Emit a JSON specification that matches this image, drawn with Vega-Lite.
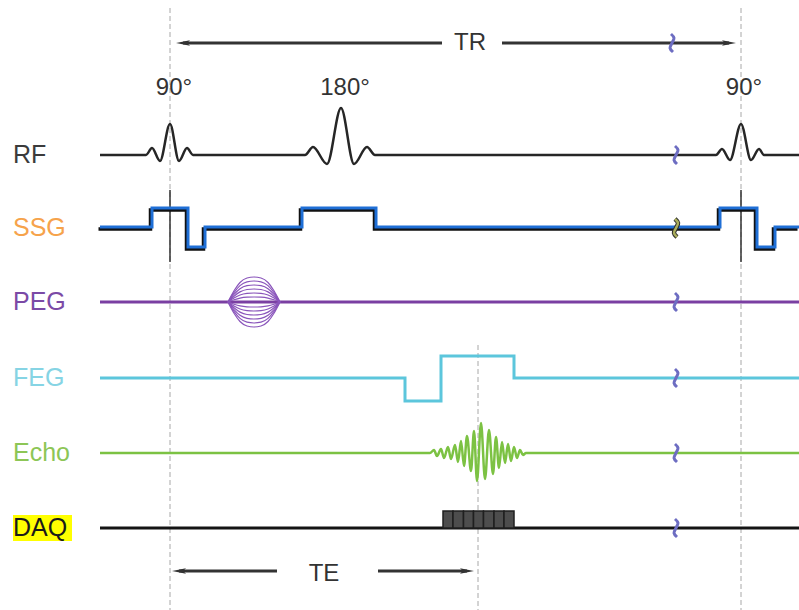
{
  "$schema": "https://vega.github.io/schema/vega-lite/v6.json",
  "width": 799,
  "height": 610,
  "autosize": {"type": "none"},
  "padding": 0,
  "background": "white",
  "config": {"view": {"stroke": null}, "font": "Liberation Sans"},
  "datasets": {
    "guides": [
      {"x": 170, "y": 8, "y2": 610},
      {"x": 741, "y": 8, "y2": 610},
      {"x": 478, "y": 345, "y2": 610}
    ],
    "markers": [
      {"x": 170, "y": 190, "y2": 262},
      {"x": 741, "y": 190, "y2": 262}
    ],
    "highlight": [{"x": 13, "x2": 72, "y": 515, "y2": 541}],
    "sharp": [
      {"s": "ssg", "k": "ssg", "x": 100, "y": 227},
      {"s": "ssg", "k": "ssg", "x": 152, "y": 227},
      {"s": "ssg", "k": "ssg", "x": 152, "y": 208},
      {"s": "ssg", "k": "ssg", "x": 188, "y": 208},
      {"s": "ssg", "k": "ssg", "x": 188, "y": 247},
      {"s": "ssg", "k": "ssg", "x": 205, "y": 247},
      {"s": "ssg", "k": "ssg", "x": 205, "y": 227},
      {"s": "ssg", "k": "ssg", "x": 302, "y": 227},
      {"s": "ssg", "k": "ssg", "x": 302, "y": 208},
      {"s": "ssg", "k": "ssg", "x": 376, "y": 208},
      {"s": "ssg", "k": "ssg", "x": 376, "y": 227},
      {"s": "ssg", "k": "ssg", "x": 720, "y": 227},
      {"s": "ssg", "k": "ssg", "x": 720, "y": 208},
      {"s": "ssg", "k": "ssg", "x": 757, "y": 208},
      {"s": "ssg", "k": "ssg", "x": 757, "y": 247},
      {"s": "ssg", "k": "ssg", "x": 775, "y": 247},
      {"s": "ssg", "k": "ssg", "x": 775, "y": 227},
      {"s": "ssg", "k": "ssg", "x": 799, "y": 227},
      {"s": "feg", "k": "feg", "x": 100, "y": 378},
      {"s": "feg", "k": "feg", "x": 405, "y": 378},
      {"s": "feg", "k": "feg", "x": 405, "y": 401},
      {"s": "feg", "k": "feg", "x": 441, "y": 401},
      {"s": "feg", "k": "feg", "x": 441, "y": 356},
      {"s": "feg", "k": "feg", "x": 514, "y": 356},
      {"s": "feg", "k": "feg", "x": 514, "y": 378},
      {"s": "feg", "k": "feg", "x": 799, "y": 378},
      {"s": "daq", "k": "daq", "x": 100, "y": 528},
      {"s": "daq", "k": "daq", "x": 799, "y": 528},
      {"s": "pegb", "k": "peg", "x": 100, "y": 302},
      {"s": "pegb", "k": "peg", "x": 799, "y": 302},
      {"s": "trL", "k": "arr", "x": 183, "y": 43},
      {"s": "trL", "k": "arr", "x": 442, "y": 43},
      {"s": "trR", "k": "arr", "x": 502, "y": 43},
      {"s": "trR", "k": "arr", "x": 729, "y": 43},
      {"s": "teL", "k": "arr", "x": 179, "y": 571},
      {"s": "teL", "k": "arr", "x": 277, "y": 571},
      {"s": "teR", "k": "arr", "x": 378, "y": 571},
      {"s": "teR", "k": "arr", "x": 467, "y": 571}
    ],
    "smooth": [
      {"s": "rf", "k": "rf", "x": 100, "y": 155},
      {"s": "rf", "k": "rf", "x": 146, "y": 155},
      {"s": "rf", "k": "rf", "x": 152, "y": 148},
      {"s": "rf", "k": "rf", "x": 160, "y": 161},
      {"s": "rf", "k": "rf", "x": 170, "y": 124},
      {"s": "rf", "k": "rf", "x": 179, "y": 161},
      {"s": "rf", "k": "rf", "x": 187, "y": 148},
      {"s": "rf", "k": "rf", "x": 193, "y": 155},
      {"s": "rf", "k": "rf", "x": 305, "y": 155},
      {"s": "rf", "k": "rf", "x": 313, "y": 147},
      {"s": "rf", "k": "rf", "x": 327, "y": 164},
      {"s": "rf", "k": "rf", "x": 341, "y": 108},
      {"s": "rf", "k": "rf", "x": 354, "y": 164},
      {"s": "rf", "k": "rf", "x": 367, "y": 147},
      {"s": "rf", "k": "rf", "x": 375, "y": 155},
      {"s": "rf", "k": "rf", "x": 716, "y": 155},
      {"s": "rf", "k": "rf", "x": 722, "y": 149},
      {"s": "rf", "k": "rf", "x": 730, "y": 160},
      {"s": "rf", "k": "rf", "x": 741, "y": 124},
      {"s": "rf", "k": "rf", "x": 751, "y": 160},
      {"s": "rf", "k": "rf", "x": 759, "y": 149},
      {"s": "rf", "k": "rf", "x": 764, "y": 155},
      {"s": "rf", "k": "rf", "x": 799, "y": 155},
      {"s": "echo", "k": "echo", "x": 100, "y": 453},
      {"s": "echo", "k": "echo", "x": 430, "y": 453},
      {"s": "echo", "k": "echo", "x": 434, "y": 450},
      {"s": "echo", "k": "echo", "x": 437, "y": 456},
      {"s": "echo", "k": "echo", "x": 441, "y": 449},
      {"s": "echo", "k": "echo", "x": 444, "y": 458},
      {"s": "echo", "k": "echo", "x": 448, "y": 447},
      {"s": "echo", "k": "echo", "x": 451, "y": 459},
      {"s": "echo", "k": "echo", "x": 455, "y": 445},
      {"s": "echo", "k": "echo", "x": 458, "y": 462},
      {"s": "echo", "k": "echo", "x": 461, "y": 441},
      {"s": "echo", "k": "echo", "x": 464, "y": 466},
      {"s": "echo", "k": "echo", "x": 467, "y": 436},
      {"s": "echo", "k": "echo", "x": 471, "y": 471},
      {"s": "echo", "k": "echo", "x": 474, "y": 431},
      {"s": "echo", "k": "echo", "x": 477, "y": 481},
      {"s": "echo", "k": "echo", "x": 481, "y": 423},
      {"s": "echo", "k": "echo", "x": 485, "y": 479},
      {"s": "echo", "k": "echo", "x": 489, "y": 430},
      {"s": "echo", "k": "echo", "x": 493, "y": 474},
      {"s": "echo", "k": "echo", "x": 496, "y": 437},
      {"s": "echo", "k": "echo", "x": 499, "y": 468},
      {"s": "echo", "k": "echo", "x": 502, "y": 442},
      {"s": "echo", "k": "echo", "x": 505, "y": 463},
      {"s": "echo", "k": "echo", "x": 508, "y": 444},
      {"s": "echo", "k": "echo", "x": 511, "y": 461},
      {"s": "echo", "k": "echo", "x": 514, "y": 447},
      {"s": "echo", "k": "echo", "x": 517, "y": 458},
      {"s": "echo", "k": "echo", "x": 520, "y": 450},
      {"s": "echo", "k": "echo", "x": 523, "y": 455},
      {"s": "echo", "k": "echo", "x": 526, "y": 453},
      {"s": "echo", "k": "echo", "x": 799, "y": 453}
    ],
    "lobes": [
      {"s": "p25", "x": 228, "y": 302}, {"s": "p25", "x": 234, "y": 290.8}, {"s": "p25", "x": 240, "y": 282.5}, {"s": "p25", "x": 247, "y": 278}, {"s": "p25", "x": 254, "y": 277}, {"s": "p25", "x": 261, "y": 278}, {"s": "p25", "x": 268, "y": 282.5}, {"s": "p25", "x": 274, "y": 290.8}, {"s": "p25", "x": 280, "y": 302},
      {"s": "p21", "x": 228, "y": 302}, {"s": "p21", "x": 234, "y": 292.6}, {"s": "p21", "x": 240, "y": 285.6}, {"s": "p21", "x": 247, "y": 281.8}, {"s": "p21", "x": 254, "y": 281}, {"s": "p21", "x": 261, "y": 281.8}, {"s": "p21", "x": 268, "y": 285.6}, {"s": "p21", "x": 274, "y": 292.6}, {"s": "p21", "x": 280, "y": 302},
      {"s": "p17", "x": 228, "y": 302}, {"s": "p17", "x": 234, "y": 294.4}, {"s": "p17", "x": 240, "y": 288.7}, {"s": "p17", "x": 247, "y": 285.7}, {"s": "p17", "x": 254, "y": 285}, {"s": "p17", "x": 261, "y": 285.7}, {"s": "p17", "x": 268, "y": 288.7}, {"s": "p17", "x": 274, "y": 294.4}, {"s": "p17", "x": 280, "y": 302},
      {"s": "p13", "x": 228, "y": 302}, {"s": "p13", "x": 234, "y": 296.2}, {"s": "p13", "x": 240, "y": 291.9}, {"s": "p13", "x": 247, "y": 289.5}, {"s": "p13", "x": 254, "y": 289}, {"s": "p13", "x": 261, "y": 289.5}, {"s": "p13", "x": 268, "y": 291.9}, {"s": "p13", "x": 274, "y": 296.2}, {"s": "p13", "x": 280, "y": 302},
      {"s": "p9", "x": 228, "y": 302}, {"s": "p9", "x": 234, "y": 298}, {"s": "p9", "x": 240, "y": 295}, {"s": "p9", "x": 247, "y": 293.4}, {"s": "p9", "x": 254, "y": 293}, {"s": "p9", "x": 261, "y": 293.4}, {"s": "p9", "x": 268, "y": 295}, {"s": "p9", "x": 274, "y": 298}, {"s": "p9", "x": 280, "y": 302},
      {"s": "p5", "x": 228, "y": 302}, {"s": "p5", "x": 234, "y": 299.8}, {"s": "p5", "x": 240, "y": 298.1}, {"s": "p5", "x": 247, "y": 297.2}, {"s": "p5", "x": 254, "y": 297}, {"s": "p5", "x": 261, "y": 297.2}, {"s": "p5", "x": 268, "y": 298.1}, {"s": "p5", "x": 274, "y": 299.8}, {"s": "p5", "x": 280, "y": 302},
      {"s": "n5", "x": 228, "y": 302}, {"s": "n5", "x": 234, "y": 304.2}, {"s": "n5", "x": 240, "y": 305.9}, {"s": "n5", "x": 247, "y": 306.8}, {"s": "n5", "x": 254, "y": 307}, {"s": "n5", "x": 261, "y": 306.8}, {"s": "n5", "x": 268, "y": 305.9}, {"s": "n5", "x": 274, "y": 304.2}, {"s": "n5", "x": 280, "y": 302},
      {"s": "n9", "x": 228, "y": 302}, {"s": "n9", "x": 234, "y": 306}, {"s": "n9", "x": 240, "y": 309}, {"s": "n9", "x": 247, "y": 310.6}, {"s": "n9", "x": 254, "y": 311}, {"s": "n9", "x": 261, "y": 310.6}, {"s": "n9", "x": 268, "y": 309}, {"s": "n9", "x": 274, "y": 306}, {"s": "n9", "x": 280, "y": 302},
      {"s": "n13", "x": 228, "y": 302}, {"s": "n13", "x": 234, "y": 307.8}, {"s": "n13", "x": 240, "y": 312.1}, {"s": "n13", "x": 247, "y": 314.5}, {"s": "n13", "x": 254, "y": 315}, {"s": "n13", "x": 261, "y": 314.5}, {"s": "n13", "x": 268, "y": 312.1}, {"s": "n13", "x": 274, "y": 307.8}, {"s": "n13", "x": 280, "y": 302},
      {"s": "n17", "x": 228, "y": 302}, {"s": "n17", "x": 234, "y": 309.6}, {"s": "n17", "x": 240, "y": 315.3}, {"s": "n17", "x": 247, "y": 318.3}, {"s": "n17", "x": 254, "y": 319}, {"s": "n17", "x": 261, "y": 318.3}, {"s": "n17", "x": 268, "y": 315.3}, {"s": "n17", "x": 274, "y": 309.6}, {"s": "n17", "x": 280, "y": 302},
      {"s": "n21", "x": 228, "y": 302}, {"s": "n21", "x": 234, "y": 311.4}, {"s": "n21", "x": 240, "y": 318.4}, {"s": "n21", "x": 247, "y": 322.2}, {"s": "n21", "x": 254, "y": 323}, {"s": "n21", "x": 261, "y": 322.2}, {"s": "n21", "x": 268, "y": 318.4}, {"s": "n21", "x": 274, "y": 311.4}, {"s": "n21", "x": 280, "y": 302},
      {"s": "n25", "x": 228, "y": 302}, {"s": "n25", "x": 234, "y": 313.3}, {"s": "n25", "x": 240, "y": 321.5}, {"s": "n25", "x": 247, "y": 326}, {"s": "n25", "x": 254, "y": 327}, {"s": "n25", "x": 261, "y": 326}, {"s": "n25", "x": 268, "y": 321.5}, {"s": "n25", "x": 274, "y": 313.3}, {"s": "n25", "x": 280, "y": 302}
    ],
    "cells": [
      {"x": 443, "x2": 453, "y": 511, "y2": 528},
      {"x": 453, "x2": 463.5, "y": 511, "y2": 528},
      {"x": 463.5, "x2": 473.5, "y": 511, "y2": 528},
      {"x": 473.5, "x2": 483.5, "y": 511, "y2": 528},
      {"x": 483.5, "x2": 494, "y": 511, "y2": 528},
      {"x": 494, "x2": 504, "y": 511, "y2": 528},
      {"x": 504, "x2": 514, "y": 511, "y2": 528}
    ],
    "heads": [
      {"d": "L", "x": 183, "y": 43},
      {"d": "R", "x": 729, "y": 43},
      {"d": "L", "x": 179, "y": 571},
      {"d": "R", "x": 467, "y": 571}
    ],
    "breaks": [
      {"b": "tr", "x": 671, "y": 34}, {"b": "tr", "x": 674, "y": 38}, {"b": "tr", "x": 672, "y": 43}, {"b": "tr", "x": 670, "y": 48}, {"b": "tr", "x": 673, "y": 52},
      {"b": "rf", "x": 675, "y": 146}, {"b": "rf", "x": 678, "y": 150}, {"b": "rf", "x": 676, "y": 155}, {"b": "rf", "x": 674, "y": 160}, {"b": "rf", "x": 677, "y": 164},
      {"b": "ssg", "x": 675, "y": 219}, {"b": "ssg", "x": 678, "y": 223}, {"b": "ssg", "x": 676, "y": 228}, {"b": "ssg", "x": 674, "y": 233}, {"b": "ssg", "x": 677, "y": 237},
      {"b": "peg", "x": 675, "y": 293}, {"b": "peg", "x": 678, "y": 297}, {"b": "peg", "x": 676, "y": 302}, {"b": "peg", "x": 674, "y": 307}, {"b": "peg", "x": 677, "y": 311},
      {"b": "feg", "x": 675, "y": 369}, {"b": "feg", "x": 678, "y": 373}, {"b": "feg", "x": 676, "y": 378}, {"b": "feg", "x": 674, "y": 383}, {"b": "feg", "x": 677, "y": 387},
      {"b": "echo", "x": 675, "y": 444}, {"b": "echo", "x": 678, "y": 448}, {"b": "echo", "x": 676, "y": 453}, {"b": "echo", "x": 674, "y": 458}, {"b": "echo", "x": 677, "y": 462},
      {"b": "daq", "x": 675, "y": 519}, {"b": "daq", "x": 678, "y": 523}, {"b": "daq", "x": 676, "y": 528}, {"b": "daq", "x": 674, "y": 533}, {"b": "daq", "x": 677, "y": 537}
    ],
    "rows": [
      {"t": "RF", "k": "RF", "x": 13, "y": 155},
      {"t": "SSG", "k": "SSG", "x": 13, "y": 228},
      {"t": "PEG", "k": "PEG", "x": 13, "y": 302},
      {"t": "FEG", "k": "FEG", "x": 13, "y": 378},
      {"t": "Echo", "k": "Echo", "x": 13, "y": 453},
      {"t": "DAQ", "k": "DAQ", "x": 13, "y": 528}
    ],
    "notes": [
      {"t": "90°", "k": "ann", "x": 174, "y": 88},
      {"t": "180°", "k": "ann", "x": 345, "y": 88},
      {"t": "90°", "k": "ann", "x": 744, "y": 88},
      {"t": "TR", "k": "ann", "x": 470, "y": 43},
      {"t": "TE", "k": "ann", "x": 324, "y": 574}
    ]
  },
  "layer": [
    {
      "data": {"name": "guides"},
      "mark": {"type": "rule", "color": "#a8a8a8", "strokeWidth": 1, "strokeDash": [5, 3]},
      "encoding": {
        "x": {"field": "x", "type": "quantitative", "scale": {"domain": [0, 799], "nice": false, "zero": false}, "axis": null},
        "y": {"field": "y", "type": "quantitative", "scale": {"domain": [0, 610], "nice": false, "zero": false, "reverse": true}, "axis": null},
        "y2": {"field": "y2"}
      }
    },
    {
      "data": {"name": "markers"},
      "mark": {"type": "rule", "color": "#333333", "strokeWidth": 1.5},
      "encoding": {
        "x": {"field": "x", "type": "quantitative"},
        "y": {"field": "y", "type": "quantitative"},
        "y2": {"field": "y2"}
      }
    },
    {
      "data": {"name": "highlight"},
      "mark": {"type": "rect", "color": "#ffff00"},
      "encoding": {
        "x": {"field": "x", "type": "quantitative"},
        "x2": {"field": "x2"},
        "y": {"field": "y", "type": "quantitative"},
        "y2": {"field": "y2"}
      }
    },
    {
      "data": {"name": "sharp"},
      "transform": [{"filter": "datum.k == 'ssg'"}],
      "mark": {"type": "line", "color": "#111111", "strokeWidth": 3.5, "xOffset": -1.5, "yOffset": 2, "strokeJoin": "miter"},
      "encoding": {
        "x": {"field": "x", "type": "quantitative"},
        "y": {"field": "y", "type": "quantitative"},
        "order": {"value": null}
      }
    },
    {
      "data": {"name": "sharp"},
      "mark": {"type": "line", "strokeWidth": 3, "strokeJoin": "miter"},
      "encoding": {
        "x": {"field": "x", "type": "quantitative"},
        "y": {"field": "y", "type": "quantitative"},
        "detail": {"field": "s", "type": "nominal"},
        "color": {
          "field": "k", "type": "nominal", "legend": null,
          "scale": {
            "domain": ["rf", "ssg", "peg", "feg", "echo", "daq", "arr", "RF", "SSG", "PEG", "FEG", "Echo", "DAQ", "ann"],
            "range": ["#262626", "#1f6fd6", "#7a3fa2", "#5cc6dc", "#7cc243", "#141414", "#333333", "#3b3b3b", "#f6a34b", "#7b4aa6", "#86d4e4", "#8dc656", "#1a1a1a", "#333333"]
          }
        },
        "order": {"value": null}
      }
    },
    {
      "data": {"name": "smooth"},
      "mark": {"type": "line", "strokeWidth": 2.5, "interpolate": "monotone"},
      "encoding": {
        "x": {"field": "x", "type": "quantitative"},
        "y": {"field": "y", "type": "quantitative"},
        "detail": {"field": "s", "type": "nominal"},
        "color": {
          "field": "k", "type": "nominal", "legend": null,
          "scale": {
            "domain": ["rf", "ssg", "peg", "feg", "echo", "daq", "arr", "RF", "SSG", "PEG", "FEG", "Echo", "DAQ", "ann"],
            "range": ["#262626", "#1f6fd6", "#7a3fa2", "#5cc6dc", "#7cc243", "#141414", "#333333", "#3b3b3b", "#f6a34b", "#7b4aa6", "#86d4e4", "#8dc656", "#1a1a1a", "#333333"]
          }
        },
        "order": {"value": null}
      }
    },
    {
      "data": {"name": "lobes"},
      "mark": {"type": "line", "strokeWidth": 1.2, "color": "#8a55bb", "interpolate": "monotone"},
      "encoding": {
        "x": {"field": "x", "type": "quantitative"},
        "y": {"field": "y", "type": "quantitative"},
        "detail": {"field": "s", "type": "nominal"},
        "order": {"value": null}
      }
    },
    {
      "data": {"name": "cells"},
      "mark": {"type": "rect", "color": "#4d4d4d", "stroke": "#1f1f1f", "strokeWidth": 1.5},
      "encoding": {
        "x": {"field": "x", "type": "quantitative"},
        "x2": {"field": "x2"},
        "y": {"field": "y", "type": "quantitative"},
        "y2": {"field": "y2"}
      }
    },
    {
      "data": {"name": "heads"},
      "mark": {"type": "point", "filled": true, "opacity": 1, "size": 196, "color": "#333333", "strokeWidth": 0},
      "encoding": {
        "x": {"field": "x", "type": "quantitative"},
        "y": {"field": "y", "type": "quantitative"},
        "shape": {
          "field": "d", "type": "nominal", "legend": null,
          "scale": {"domain": ["L", "R"], "range": ["M-1,0L1,-0.4L0.6,0L1,0.4Z", "M1,0L-1,-0.4L-0.6,0L-1,0.4Z"]}
        }
      }
    },
    {
      "data": {"name": "breaks"},
      "transform": [{"filter": "datum.b == 'ssg'"}],
      "mark": {"type": "line", "color": "#2a2a2a", "strokeWidth": 4.5, "interpolate": "cardinal"},
      "encoding": {
        "x": {"field": "x", "type": "quantitative"},
        "y": {"field": "y", "type": "quantitative"},
        "order": {"value": null}
      }
    },
    {
      "data": {"name": "breaks"},
      "transform": [{"filter": "datum.b == 'ssg'"}],
      "mark": {"type": "line", "color": "#a9ad5c", "strokeWidth": 2.5, "interpolate": "cardinal"},
      "encoding": {
        "x": {"field": "x", "type": "quantitative"},
        "y": {"field": "y", "type": "quantitative"},
        "order": {"value": null}
      }
    },
    {
      "data": {"name": "breaks"},
      "transform": [{"filter": "datum.b != 'ssg'"}],
      "mark": {"type": "line", "color": "#6d6dc2", "strokeWidth": 3, "interpolate": "cardinal"},
      "encoding": {
        "x": {"field": "x", "type": "quantitative"},
        "y": {"field": "y", "type": "quantitative"},
        "detail": {"field": "b", "type": "nominal"},
        "order": {"value": null}
      }
    },
    {
      "data": {"name": "rows"},
      "mark": {"type": "text", "align": "left", "baseline": "middle", "fontSize": 25, "font": "Liberation Sans"},
      "encoding": {
        "x": {"field": "x", "type": "quantitative"},
        "y": {"field": "y", "type": "quantitative"},
        "text": {"field": "t"},
        "color": {
          "field": "k", "type": "nominal", "legend": null,
          "scale": {
            "domain": ["rf", "ssg", "peg", "feg", "echo", "daq", "arr", "RF", "SSG", "PEG", "FEG", "Echo", "DAQ", "ann"],
            "range": ["#262626", "#1f6fd6", "#7a3fa2", "#5cc6dc", "#7cc243", "#141414", "#333333", "#3b3b3b", "#f6a34b", "#7b4aa6", "#86d4e4", "#8dc656", "#1a1a1a", "#333333"]
          }
        }
      }
    },
    {
      "data": {"name": "notes"},
      "mark": {"type": "text", "align": "center", "baseline": "middle", "fontSize": 24, "font": "Liberation Sans"},
      "encoding": {
        "x": {"field": "x", "type": "quantitative"},
        "y": {"field": "y", "type": "quantitative"},
        "text": {"field": "t"},
        "color": {
          "field": "k", "type": "nominal", "legend": null,
          "scale": {
            "domain": ["rf", "ssg", "peg", "feg", "echo", "daq", "arr", "RF", "SSG", "PEG", "FEG", "Echo", "DAQ", "ann"],
            "range": ["#262626", "#1f6fd6", "#7a3fa2", "#5cc6dc", "#7cc243", "#141414", "#333333", "#3b3b3b", "#f6a34b", "#7b4aa6", "#86d4e4", "#8dc656", "#1a1a1a", "#333333"]
          }
        }
      }
    }
  ]
}
